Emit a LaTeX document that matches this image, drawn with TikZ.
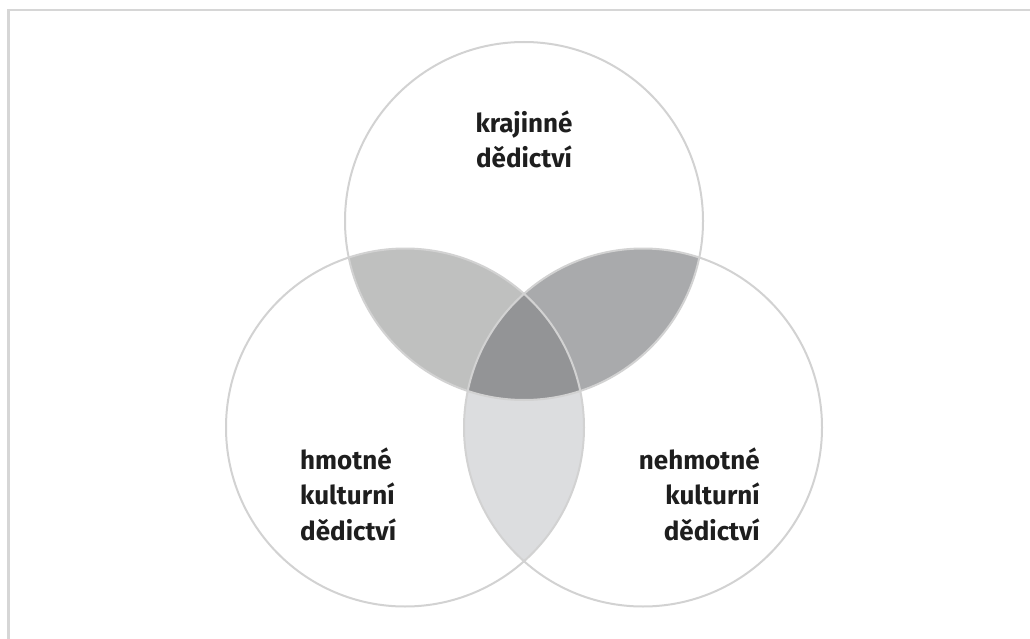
\documentclass[tikz,border=0pt]{standalone}
\usepackage{fontspec}
\setmainfont{Fira Sans}
\definecolor{ring}{HTML}{D2D2D2}
\definecolor{frameC}{HTML}{D6D6D6}
\definecolor{tl}{HTML}{BFC0BF}
\definecolor{tr}{HTML}{A9AAAC}
\definecolor{bot}{HTML}{DCDDDF}
\definecolor{mid}{HTML}{939496}
\definecolor{txt}{HTML}{1E1E1E}
\begin{document}
\begin{tikzpicture}[x=1pt,y=-1pt,
  ringline/.style={draw=ring,line width=2pt},
  lbl/.style={font=\fontsize{26}{35.5}\selectfont\bfseries,text=txt,inner sep=0pt}]
\useasboundingbox (0,0) rectangle (1030,639);
\def\R{179}
\coordinate (T) at (524,221);
\coordinate (L) at (405,427.5);
\coordinate (Rr) at (643,427.5);
% frame (top and left edges)
\draw[frameC,line width=2.5pt] (8.5,639) -- (8.5,10) -- (1030,10);
% fills
\begin{scope}\clip (T) circle (\R); \fill[tl] (L) circle (\R);\end{scope}
\begin{scope}\clip (T) circle (\R); \fill[tr] (Rr) circle (\R);\end{scope}
\begin{scope}\clip (L) circle (\R); \fill[bot] (Rr) circle (\R);\end{scope}
\begin{scope}\clip (T) circle (\R); \clip (L) circle (\R); \fill[mid] (Rr) circle (\R);\end{scope}
% outlines
\draw[ringline] (T) circle (\R);
\draw[ringline] (L) circle (\R);
\draw[ringline] (Rr) circle (\R);
% labels
\node[lbl,align=center,anchor=base] (top) at (524,168) {krajinné\\dědictví};
\node[lbl,align=left,anchor=base west] (left) at (300,540) {hmotné\\kulturní\\dědictví};
\node[lbl,align=right,anchor=base east] (right) at (760,540) {nehmotné\\kulturní\\dědictví};
\end{tikzpicture}
\end{document}
